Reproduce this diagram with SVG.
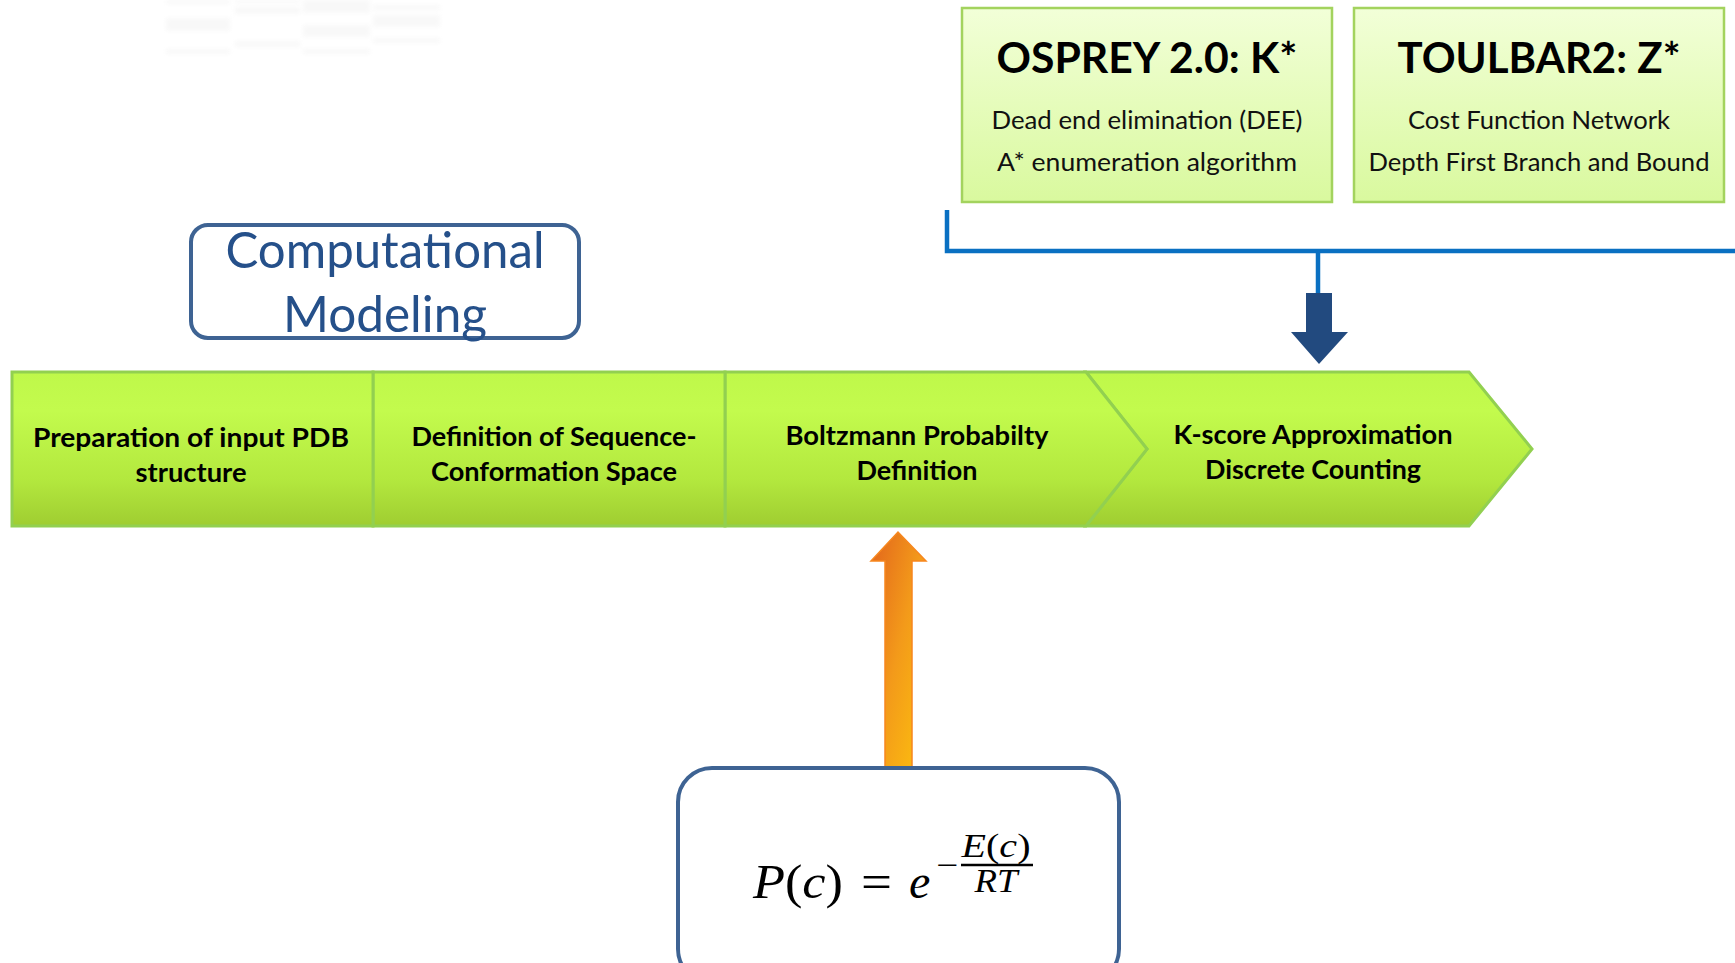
<svg xmlns="http://www.w3.org/2000/svg" width="1735" height="963" viewBox="0 0 1735 963">
  <defs>
    <style>
      .tool-title { font-family: Lato, "Open Sans", "Liberation Sans", sans-serif; font-weight: 700; font-size: 42px; fill: #000; text-anchor: middle; }
      .tool-sub { font-family: Lato, "Open Sans", "Liberation Sans", sans-serif; font-size: 25px; fill: #111; text-anchor: middle; }
      .step { font-family: Lato, "Open Sans", "Liberation Sans", sans-serif; font-weight: 700; font-size: 26px; fill: #000; text-anchor: middle; }
      .heading { font-family: Lato, "Open Sans", "Liberation Sans", sans-serif; font-size: 50px; fill: #25508a; text-anchor: middle; }
      .math { font-family: "Liberation Serif", "DejaVu Serif", serif; font-style: italic; fill: #000; }
      .mathup { font-family: "Liberation Serif", "DejaVu Serif", serif; fill: #000; }
      .tool-box { fill: url(#toolFill); stroke: #a3d35e; stroke-width: 2.5; }
      .step-shape { fill: url(#barFill); stroke: #92d050; stroke-width: 3; stroke-linejoin: miter; }
      .round-box { fill: #fff; stroke: #3e6393; stroke-width: 4; }
      .link { fill: none; stroke: #0a70c2; stroke-width: 4.5; }
    </style>
    <linearGradient id="toolFill" x1="0" y1="0" x2="0" y2="1">
      <stop offset="0" stop-color="#f2ffd8"/>
      <stop offset="1" stop-color="#d9f99e"/>
    </linearGradient>
    <linearGradient id="barFill" x1="0" y1="0" x2="0" y2="1">
      <stop offset="0" stop-color="#bff84a"/>
      <stop offset="0.25" stop-color="#c3fb4d"/>
      <stop offset="0.7" stop-color="#b3e83e"/>
      <stop offset="1" stop-color="#9fcd31"/>
    </linearGradient>
    <linearGradient id="orangeFill" x1="0" y1="0" x2="1" y2="1" gradientUnits="objectBoundingBox">
      <stop offset="0" stop-color="#e2641c"/>
      <stop offset="0.5" stop-color="#f39a1a"/>
      <stop offset="1" stop-color="#fdc10e"/>
    </linearGradient>
    <filter id="soft" x="-10%" y="-50%" width="120%" height="200%">
      <feGaussianBlur stdDeviation="2"/>
    </filter>
  </defs>

  <rect width="1735" height="963" fill="#fff"/>

  <!-- faint leftover table lines, top left -->
  <g id="faint-table" fill="#f0f0f0" filter="url(#soft)" opacity="0.45">
    <rect x="166" y="0" width="64" height="4"/>
    <rect x="166" y="18" width="64" height="13"/>
    <rect x="166" y="49" width="64" height="5"/>
    <rect x="235" y="0" width="65" height="3"/>
    <rect x="235" y="7" width="65" height="7"/>
    <rect x="235" y="41" width="65" height="6"/>
    <rect x="303" y="0" width="67" height="13"/>
    <rect x="303" y="25" width="67" height="12"/>
    <rect x="303" y="49" width="67" height="5"/>
    <rect x="373" y="5" width="67" height="5"/>
    <rect x="373" y="15" width="67" height="12"/>
    <rect x="373" y="38" width="67" height="5"/>
  </g>

  <!-- connectors -->
  <g id="connectors">
    <!-- bracket joining the two solvers -->
    <path class="link" d="M947 210 V251 H1735"/>
    <path class="link" d="M1318 251 V294"/>
    <!-- solver block arrow into K-score step -->
    <path d="M1306 293 H1332 V332 H1348 L1319 364 L1291 332 H1306 Z" fill="#224a7f"/>
    <!-- probability block arrow into Boltzmann step -->
    <path d="M885 767 V561 H871 L898 532 L926 561 H912 V767 Z" fill="url(#orangeFill)" stroke="#f7871e" stroke-width="1.5"/>
  </g>

  <g id="osprey">
    <rect class="tool-box" x="962" y="8" width="370" height="194"/>
    <text class="tool-title" x="1147" y="73" textLength="301" lengthAdjust="spacingAndGlyphs">OSPREY 2.0: K*</text>
    <text class="tool-sub" x="1147" y="129" textLength="311" lengthAdjust="spacingAndGlyphs">Dead end elimination (DEE)</text>
    <text class="tool-sub" x="1147" y="171" textLength="300" lengthAdjust="spacingAndGlyphs">A* enumeration algorithm</text>
  </g>

  <g id="toulbar2">
    <rect class="tool-box" x="1354" y="8" width="370" height="194"/>
    <text class="tool-title" x="1539" y="73" textLength="283" lengthAdjust="spacingAndGlyphs">TOULBAR2: Z*</text>
    <text class="tool-sub" x="1539" y="129" textLength="262" lengthAdjust="spacingAndGlyphs">Cost Function Network</text>
    <text class="tool-sub" x="1539" y="171" textLength="341" lengthAdjust="spacingAndGlyphs">Depth First Branch and Bound</text>
  </g>

  <g id="computational-modeling">
    <rect class="round-box" x="191" y="225" width="388" height="113" rx="17"/>
    <text class="heading" x="385" y="268" textLength="319" lengthAdjust="spacingAndGlyphs">Computational</text>
    <text class="heading" x="385" y="332" textLength="204" lengthAdjust="spacingAndGlyphs">Modeling</text>
  </g>

  <g id="step-k-score">
    <path class="step-shape" d="M1086 372 H1469 L1532 449 L1469 526 H1086 L1147 449 Z"/>
    <text class="step" x="1313" y="444" textLength="279" lengthAdjust="spacingAndGlyphs">K-score Approximation</text>
    <text class="step" x="1313" y="479" textLength="216" lengthAdjust="spacingAndGlyphs">Discrete Counting</text>
  </g>

  <g id="step-boltzmann">
    <path class="step-shape" d="M725 372 H1086 L1147 449 L1086 526 H725 Z"/>
    <text class="step" x="917" y="445" textLength="263" lengthAdjust="spacingAndGlyphs">Boltzmann Probabilty</text>
    <text class="step" x="917" y="480" textLength="121" lengthAdjust="spacingAndGlyphs">Definition</text>
  </g>

  <g id="step-sequence-space">
    <rect class="step-shape" x="373" y="372" width="352" height="154"/>
    <text class="step" x="554" y="446" textLength="285" lengthAdjust="spacingAndGlyphs">Definition of Sequence-</text>
    <text class="step" x="554" y="481" textLength="246" lengthAdjust="spacingAndGlyphs">Conformation Space</text>
  </g>

  <g id="step-pdb">
    <rect class="step-shape" x="12" y="372" width="361" height="154"/>
    <text class="step" x="191" y="447" textLength="316" lengthAdjust="spacingAndGlyphs">Preparation of input PDB</text>
    <text class="step" x="191" y="482" textLength="111" lengthAdjust="spacingAndGlyphs">structure</text>
  </g>

  <g id="probability-formula">
    <rect class="round-box" x="678" y="768" width="441" height="215" rx="34"/>
    <!-- P(c) = e^(-E(c)/RT) -->
    <text x="753" y="898" font-size="48" textLength="90" lengthAdjust="spacingAndGlyphs"><tspan class="math">P</tspan><tspan class="mathup">(</tspan><tspan class="math">c</tspan><tspan class="mathup">)</tspan></text>
    <text class="mathup" x="861" y="898" font-size="48" textLength="31" lengthAdjust="spacingAndGlyphs">=</text>
    <text class="math" x="909" y="898" font-size="48">e</text>
    <text class="mathup" x="936" y="876" font-size="32" textLength="22" lengthAdjust="spacingAndGlyphs">−</text>
    <text x="996" y="857" font-size="34" text-anchor="middle" textLength="69" lengthAdjust="spacingAndGlyphs"><tspan class="math">E</tspan><tspan class="mathup">(</tspan><tspan class="math">c</tspan><tspan class="mathup">)</tspan></text>
    <line x1="961" y1="865" x2="1033" y2="865" stroke="#000" stroke-width="2.5"/>
    <text class="math" x="996" y="892" font-size="34" text-anchor="middle" textLength="43" lengthAdjust="spacingAndGlyphs">RT</text>
  </g>
</svg>
